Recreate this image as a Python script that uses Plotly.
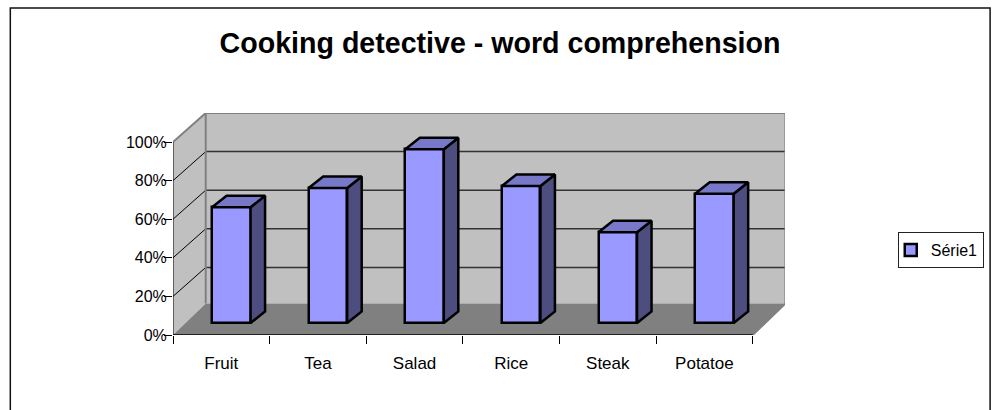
import plotly.graph_objects as go

categories = ["Fruit", "Tea", "Salad", "Rice", "Steak", "Potatoe"]
values = [60, 70, 90, 71, 47, 67]
y_ticks = [0, 20, 40, 60, 80, 100]
series_name = "Série1"
title = "Cooking detective - word comprehension"

W, H = 994, 410
L, R, T, B = 173.3, 785.0, 113.0, 335.0   # plot box in page pixels
PX_X = 96.57       # pixels per category
PX_Y = 1.93        # pixels per percent
X0, X1 = -0.5, -0.5 + (R - L) / PX_X
Y0, Y1 = 0.0, (B - T) / PX_Y

WALL_DX = 32.7 / PX_X
WALL_DY = 29.0 / PX_Y
FLOOR_DY = 31.5 / PX_Y
BAR_DX = 10.0 / PX_X
BAR_BASE = 12.0 / PX_Y
BAR_W = 38.5 / PX_X
BAR_SIDE_DX = 14.5 / PX_X
BAR_SIDE_DY = 11.5 / PX_Y

C_WALL, C_FLOOR, C_EDGE = "#C0C0C0", "#808080", "#808080"
C_FRONT, C_TOP, C_SIDE = "#9999FF", "#7878C8", "#4D4D80"
FONT = "Liberation Sans, Arial, sans-serif"

xl, xr = X0, X0 + len(categories)
bx0, bx1 = xl + WALL_DX, xr + WALL_DX


def poly(xs, ys):
    return "M" + " L".join(f"{a},{b}" for a, b in zip(xs, ys)) + " Z"


shapes = [
    # chart frame
    dict(type="rect", xref="paper", yref="paper", layer="below",
         x0=(10.7 - L) / (R - L), x1=(990 - L) / (R - L),
         y0=(B - 440) / (B - T), y1=(B - 8) / (B - T),
         line=dict(color="#111111", width=1.5), fillcolor="white"),
    # back wall
    dict(type="rect", xref="x", yref="y", layer="below", x0=bx0, x1=bx1,
         y0=FLOOR_DY, y1=Y1, line=dict(width=0), fillcolor=C_WALL),
    # left wall
    dict(type="path", xref="x", yref="y", layer="below",
         path=poly([xl, xl, bx0, bx0], [0, 100, Y1, FLOOR_DY]),
         line=dict(width=0), fillcolor=C_WALL),
    # floor
    dict(type="path", xref="x", yref="y", layer="below",
         path=poly([xl, xr, bx1, bx0], [0, 0, FLOOR_DY, FLOOR_DY]),
         line=dict(width=0), fillcolor=C_FLOOR),
]
for v in y_ticks[1:-1]:
    shapes.append(dict(type="line", xref="x", yref="y", layer="below",
                       x0=bx0, x1=bx1, y0=v + WALL_DY, y1=v + WALL_DY,
                       line=dict(color="#333333", width=1.5)))
    shapes.append(dict(type="line", xref="x", yref="y", layer="below",
                       x0=xl, x1=bx0, y0=v, y1=v + WALL_DY,
                       line=dict(color="black", width=1)))

fig = go.Figure()


def line(xs, ys, color, width):
    fig.add_trace(go.Scatter(x=xs, y=ys, mode="lines", showlegend=False, hoverinfo="skip",
                             cliponaxis=False, line=dict(color=color, width=width)))


# wall outline
line([xl, xl + WALL_DX, bx1, bx1, xr], [100, Y1, Y1, FLOOR_DY, 0], C_EDGE, 2)
line([bx0, bx0], [FLOOR_DY, Y1], C_EDGE, 2)

# front faces
centers = [i + BAR_DX for i in range(len(categories))]
fig.add_trace(go.Bar(x=centers, y=values, base=BAR_BASE, width=BAR_W, name=series_name,
                     marker=dict(color=C_FRONT, line=dict(color="black", width=2.5)),
                     showlegend=True))

# side and top faces
for c, v in zip(centers, values):
    a, b = c - BAR_W / 2, c + BAR_W / 2
    top = BAR_BASE + v
    fig.add_trace(go.Scatter(
        x=[b, b + BAR_SIDE_DX, b + BAR_SIDE_DX, b, b],
        y=[BAR_BASE, BAR_BASE + BAR_SIDE_DY, top + BAR_SIDE_DY, top, BAR_BASE],
        mode="lines", fill="toself", fillcolor=C_SIDE, showlegend=False, hoverinfo="skip",
        line=dict(color="black", width=2.5)))
    fig.add_trace(go.Scatter(
        x=[a, b, b + BAR_SIDE_DX, a + BAR_SIDE_DX, a],
        y=[top, top, top + BAR_SIDE_DY, top + BAR_SIDE_DY, top],
        mode="lines", fill="toself", fillcolor=C_TOP, showlegend=False, hoverinfo="skip",
        line=dict(color="black", width=2.5)))

# axis lines
line([xl, xl], [0, 100], "black", 1)
line([xl, xr], [0, 0], "black", 1.5)

fig.update_layout(
    width=W, height=H, paper_bgcolor="white", plot_bgcolor="rgba(0,0,0,0)",
    margin=dict(l=L, r=W - R, t=T, b=H - B, pad=0, autoexpand=False),
    shapes=shapes, bargap=0,
    title=dict(text=title, xref="container", yref="container", x=500 / W, y=1 - 43 / H,
               xanchor="center", yanchor="middle",
               font=dict(family=FONT, size=28.6, color="black", weight="bold")),
    font=dict(family=FONT, color="black"),
    legend=dict(x=(897.7 - L) / (R - L), y=(B - 232) / (B - T), xanchor="left", yanchor="top",
                bgcolor="white", bordercolor="#222222", borderwidth=1, indentation=-8,
                font=dict(size=16, family=FONT, color="black"), itemwidth=30),
    xaxis=dict(range=[X0, X1], tickmode="array", tickvals=list(range(len(categories))),
               ticktext=categories, ticks="", showgrid=False, zeroline=False, showline=False,
               ticklabelstandoff=16, tickfont=dict(size=17, family=FONT, color="black"),
               minor=dict(tickmode="array", tickvals=[xl + i for i in range(len(categories) + 1)],
                          ticks="outside", ticklen=8, tickwidth=1, tickcolor="black", showgrid=False)),
    yaxis=dict(range=[Y0, Y1], tickmode="array", tickvals=y_ticks,
               ticktext=[f"{v}%" for v in y_ticks], ticks="outside", ticklen=8, tickwidth=1,
               tickcolor="black", showgrid=False, zeroline=False, showline=False,
               ticklabelstandoff=-6, tickfont=dict(size=16, family=FONT, color="black")),
)

fig.write_html("out.html", config=dict(displayModeBar=False),
               post_script="document.body.style.margin='0';document.documentElement.style.overflow='hidden';")
